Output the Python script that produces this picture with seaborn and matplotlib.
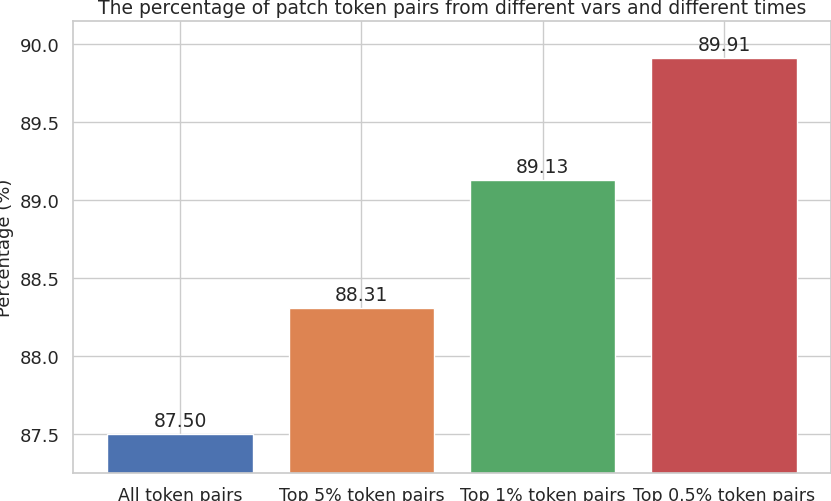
import matplotlib
matplotlib.use('Agg')
from matplotlib import pyplot as plt
import seaborn as sns

sns.set(style='whitegrid')

# Data
categories = ['All token pairs', 'Top 5% token pairs', 'Top 1% token pairs', 'Top 0.5% token pairs']
percentages = [87.50, 88.31, 89.13, 89.91]
colors = sns.color_palette('deep', 4)

# Plot
fig = plt.figure(figsize=(8.31, 5.02), dpi=100)
ax = fig.add_axes([73 / 831, 28 / 502, 758 / 831, 452 / 502])
bars = ax.bar(categories, percentages, color=colors, width=0.8)
ax.set_ylim(87.25, 90.15)
ax.set_ylabel('Percentage (%)', fontsize=13)
ax.set_title('The percentage of patch token pairs from different vars and different times', fontsize=13.5)
ax.tick_params(axis='y', labelsize=13)
ax.tick_params(axis='x', labelsize=12.5)

for bar, val in zip(bars, percentages):
    ax.annotate(f'{val:.2f}', (bar.get_x() + bar.get_width() / 2, bar.get_height()),
                xytext=(0, 3), textcoords='offset points', ha='center', va='bottom', fontsize=13.5)

fig.savefig('out.png', dpi=100)
